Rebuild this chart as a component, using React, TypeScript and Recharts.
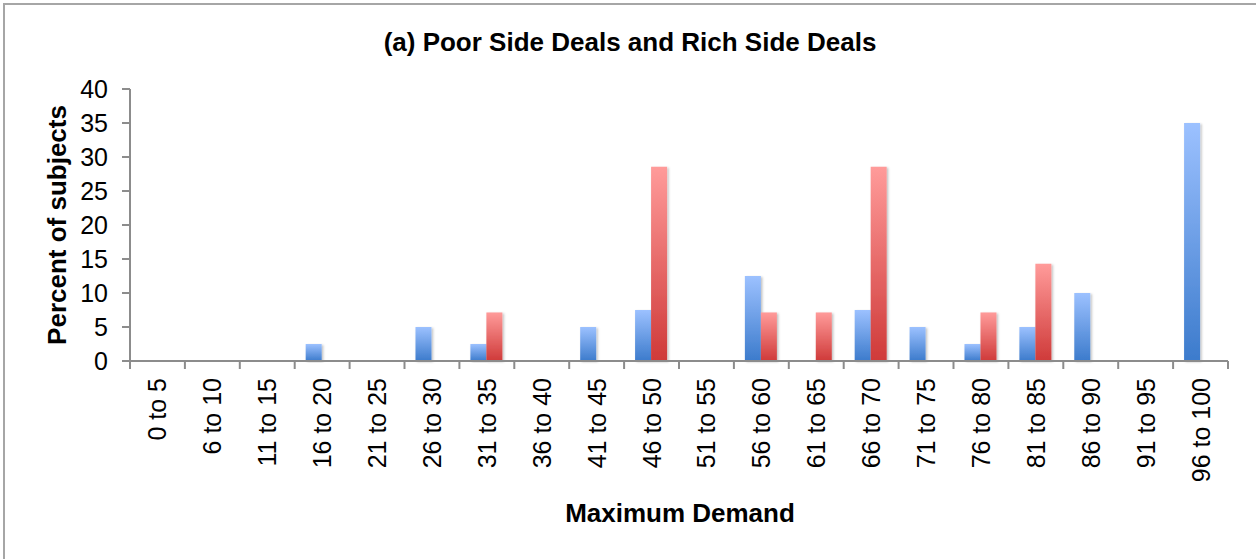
import React from 'react';
import { BarChart, Bar, XAxis, YAxis } from 'recharts';

const categories = [
  '0 to 5', '6 to 10', '11 to 15', '16 to 20', '21 to 25', '26 to 30', '31 to 35',
  '36 to 40', '41 to 45', '46 to 50', '51 to 55', '56 to 60', '61 to 65', '66 to 70',
  '71 to 75', '76 to 80', '81 to 85', '86 to 90', '91 to 95', '96 to 100',
];
const poorSide = [0, 0, 0, 2.5, 0, 5, 2.5, 0, 5, 7.5, 0, 12.5, 0, 7.5, 5, 2.5, 5, 10, 0, 35];
const richSide = [0, 0, 0, 0, 0, 0, 7.14, 0, 0, 28.57, 0, 7.14, 7.14, 28.57, 0, 7.14, 14.29, 0, 0, 0];
const yTicks = [0, 5, 10, 15, 20, 25, 30, 35, 40];

const data = categories.map((name, i) => ({ name, poor: poorSide[i], rich: richSide[i] }));

const FONT = '"Liberation Sans", Arial, sans-serif';
const AXIS = '#8c8c8c';
const LABEL_GAP = 17;

// category label plus the boundary tick marks (Excel puts them between categories)
const XTick = ({ x, y, payload }: any) => {
  const half = payload.offset || 0;
  const axisY = y - LABEL_GAP;
  const isLast = payload.value === categories[categories.length - 1];
  return (
    <g>
      <line x1={x - half} x2={x - half} y1={axisY} y2={axisY + 8} stroke={AXIS} strokeWidth={2} />
      {isLast && <line x1={x + half} x2={x + half} y1={axisY} y2={axisY + 8} stroke={AXIS} strokeWidth={2} />}
      <text
        x={x}
        y={y}
        transform={`rotate(-90, ${x}, ${y})`}
        textAnchor="end"
        dy="0.36em"
        fontSize={25}
        fontFamily={FONT}
        fill="#000"
      >
        {payload.value}
      </text>
    </g>
  );
};

export default function App() {
  return (
    <div style={{ position: 'absolute', left: 0, top: 0, width: 1256, height: 559, background: '#fff', overflow: 'hidden' }}>
      <div
        style={{
          position: 'absolute', left: 3, top: 3, width: 1300, height: 600,
          borderTop: '2px solid #a6a6a6', borderLeft: '2px solid #a6a6a6',
        }}
      />
      <BarChart
        width={1256}
        height={559}
        data={data}
        margin={{ top: 89, right: 28, left: 0, bottom: 0 }}
        barCategoryGap="20%"
        barGap={0}
        style={{ position: 'absolute', left: 0, top: 0 }}
      >
        <defs>
          <linearGradient id="gBlue" x1="0" y1="0" x2="0" y2="1">
            <stop offset="0%" stopColor="#9cc1ff" />
            <stop offset="100%" stopColor="#3c7bcc" />
          </linearGradient>
          <linearGradient id="gRed" x1="0" y1="0" x2="0" y2="1">
            <stop offset="0%" stopColor="#ff9b9a" />
            <stop offset="100%" stopColor="#cf3a39" />
          </linearGradient>
          <filter id="shadow" x="-20%" y="-5%" width="150%" height="115%">
            <feDropShadow dx="1.5" dy="1" stdDeviation="1.2" floodColor="#000" floodOpacity="0.25" />
          </filter>
        </defs>
        <XAxis
          dataKey="name"
          interval={0}
          tickLine={false}
          tickSize={0}
          tickMargin={LABEL_GAP}
          axisLine={{ stroke: AXIS, strokeWidth: 2 }}
          tick={<XTick />}
          height={198}
        />
        <YAxis
          domain={[0, 40]}
          ticks={yTicks}
          width={130}
          tickSize={8}
          tickMargin={14}
          axisLine={{ stroke: AXIS, strokeWidth: 2 }}
          tickLine={{ stroke: AXIS, strokeWidth: 2 }}
          tick={{ fontSize: 25, fontFamily: FONT, fill: '#000' }}
        />
        <Bar dataKey="poor" fill="url(#gBlue)" filter="url(#shadow)" isAnimationActive={false} />
        <Bar dataKey="rich" fill="url(#gRed)" filter="url(#shadow)" isAnimationActive={false} />
        <text x={630} y={51} textAnchor="middle" fontSize={26} fontWeight="bold" fontFamily={FONT} fill="#000">
          (a) Poor Side Deals and Rich Side Deals
        </text>
        <text x={680} y={522} textAnchor="middle" fontSize={26} fontWeight="bold" fontFamily={FONT} fill="#000">
          Maximum Demand
        </text>
        <text
          x={66}
          y={225}
          transform="rotate(-90, 66, 225)"
          textAnchor="middle"
          fontSize={26}
          fontWeight="bold"
          fontFamily={FONT}
          fill="#000"
        >
          Percent of subjects
        </text>
      </BarChart>
    </div>
  );
}
